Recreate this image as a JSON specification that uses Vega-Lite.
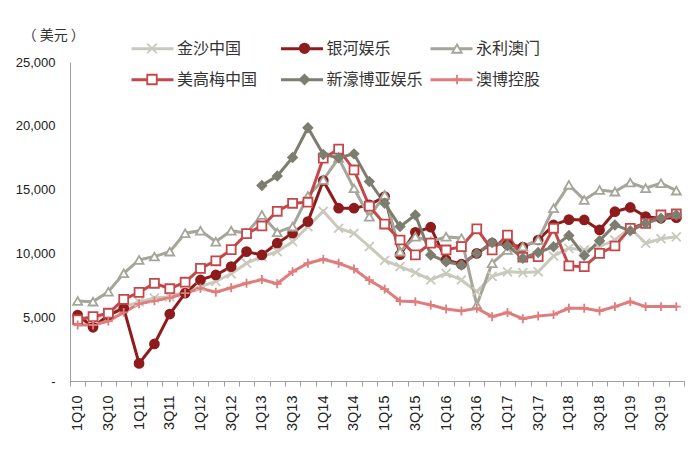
{
  "$schema": "https://vega.github.io/schema/vega-lite/v6.json",
  "width": 614,
  "height": 319,
  "autosize": {"type": "none"},
  "padding": {"left": 70, "top": 62, "right": 16, "bottom": 81},
  "background": "white",
  "config": {
    "view": {"stroke": null},
    "font": "Liberation Sans"
  },
  "data": {
    "values": [
      {"q": "1Q10", "金沙中国": 5000, "银河娱乐": 5170, "永利澳门": 6270, "美高梅中国": 4800, "新濠博亚娱乐": null, "澳博控股": 4390},
      {"q": "2Q10", "金沙中国": 4900, "银河娱乐": 4210, "永利澳门": 6220, "美高梅中国": 5040, "新濠博亚娱乐": null, "澳博控股": 4390},
      {"q": "3Q10", "金沙中国": 5300, "银河娱乐": 5170, "永利澳门": 7000, "美高梅中国": 5310, "新濠博亚娱乐": null, "澳博控股": 4700},
      {"q": "4Q10", "金沙中国": 5800, "银河娱乐": 5700, "永利澳门": 8440, "美高梅中国": 6400, "新濠博亚娱乐": null, "澳博控股": 5380},
      {"q": "1Q11", "金沙中国": 6200, "银河娱乐": 1380, "永利澳门": 9490, "美高梅中国": 6950, "新濠博亚娱乐": null, "澳博控股": 6050},
      {"q": "2Q11", "金沙中国": 6500, "银河娱乐": 2900, "永利澳门": 9750, "美高梅中国": 7660, "新濠博亚娱乐": null, "澳博控股": 6280},
      {"q": "3Q11", "金沙中国": 6600, "银河娱乐": 5250, "永利澳门": 10140, "美高梅中国": 7230, "新濠博亚娱乐": null, "澳博控股": 6520},
      {"q": "4Q11", "金沙中国": 7000, "银河娱乐": 6880, "永利澳门": 11580, "美高梅中国": 7740, "新濠博亚娱乐": null, "澳博控股": 6880},
      {"q": "1Q12", "金沙中国": 7400, "银河娱乐": 7920, "永利澳门": 11780, "美高梅中国": 8830, "新濠博亚娱乐": null, "澳博控股": 7270},
      {"q": "2Q12", "金沙中国": 7800, "银河娱乐": 8310, "永利澳门": 10920, "美高梅中国": 9420, "新濠博亚娱乐": null, "澳博控股": 6960},
      {"q": "3Q12", "金沙中国": 8400, "银河娱乐": 8960, "永利澳门": 11780, "美高梅中国": 10300, "新濠博亚娱乐": null, "澳博控股": 7310},
      {"q": "4Q12", "金沙中国": 9230, "银河娱乐": 10140, "永利澳门": 11580, "美高梅中国": 11550, "新濠博亚娱乐": null, "澳博控股": 7660},
      {"q": "1Q13", "金沙中国": 9750, "银河娱乐": 9880, "永利澳门": 13010, "美高梅中国": 12150, "新濠博亚娱乐": 15330, "澳博控股": 7950},
      {"q": "2Q13", "金沙中国": 10140, "银河娱乐": 10800, "永利澳门": 11650, "美高梅中国": 13300, "新濠博亚娱乐": 16060, "澳博控股": 7620},
      {"q": "3Q13", "金沙中国": 10920, "银河娱乐": 11580, "永利澳门": 12100, "美高梅中国": 13930, "新濠博亚娱乐": 17520, "澳博控股": 8570},
      {"q": "4Q13", "金沙中国": 12100, "银河娱乐": 12490, "永利澳门": 14500, "美高梅中国": 14010, "新濠博亚娱乐": 19850, "澳博控股": 9230},
      {"q": "1Q14", "金沙中国": 13300, "银河娱乐": 15700, "永利澳门": 15760, "美高梅中国": 17460, "新濠博亚娱乐": 17750, "澳博控股": 9540},
      {"q": "2Q14", "金沙中国": 11970, "银河娱乐": 13540, "永利澳门": 17470, "美高梅中国": 18170, "新濠博亚娱乐": 17500, "澳博控股": 9230},
      {"q": "3Q14", "金沙中国": 11580, "银河娱乐": 13540, "永利澳门": 15100, "美高梅中国": 16540, "新濠博亚娱乐": 17800, "澳博控股": 8780},
      {"q": "4Q14", "金沙中国": 10530, "银河娱乐": 13800, "永利澳门": 12870, "美高梅中国": 13700, "新濠博亚娱乐": 15630, "澳博控股": 7900},
      {"q": "1Q15", "金沙中国": 9450, "银河娱乐": 14450, "永利澳门": 14580, "美高梅中国": 12300, "新濠博亚娱乐": 13930, "澳博控股": 7200},
      {"q": "2Q15", "金沙中国": 8960, "银河娱乐": 9900, "永利澳门": 10140, "美高梅中国": 11050, "新濠博亚娱乐": 12100, "澳博控股": 6270},
      {"q": "3Q15", "金沙中国": 8500, "银河娱乐": 11650, "永利澳门": 11310, "美高梅中国": 9880, "新濠博亚娱乐": 13010, "澳博控股": 6220},
      {"q": "4Q15", "金沙中国": 7920, "银河娱乐": 12050, "永利澳门": 10920, "美高梅中国": 10800, "新濠博亚娱乐": 9880, "澳博控股": 5960},
      {"q": "1Q16", "金沙中国": 8440, "银河娱乐": 9490, "永利澳门": 11310, "美高梅中国": 10270, "新濠博亚娱乐": 9350, "澳博控股": 5640},
      {"q": "2Q16", "金沙中国": 7920, "银河娱乐": 9150, "永利澳门": 11190, "美高梅中国": 10530, "新濠博亚娱乐": 9100, "澳博控股": 5490},
      {"q": "3Q16", "金沙中国": 7000, "银河娱乐": 10000, "永利澳门": 5960, "美高梅中国": 11930, "新濠博亚娱乐": 10000, "澳博控股": 5700},
      {"q": "4Q16", "金沙中国": 8200, "银河娱乐": 10800, "永利澳门": 9230, "美高梅中国": 10270, "新濠博亚娱乐": 10860, "澳博控股": 5040},
      {"q": "1Q17", "金沙中国": 8560, "银河娱乐": 10700, "永利澳门": 10270, "美高梅中国": 11440, "新濠博亚娱乐": 10600, "澳博控股": 5370},
      {"q": "2Q17", "金沙中国": 8500, "银河娱乐": 10500, "永利澳门": 10530, "美高梅中国": 9700, "新濠博亚娱乐": 9620, "澳博控股": 4880},
      {"q": "3Q17", "金沙中国": 8560, "银河娱乐": 11050, "永利澳门": 11050, "美高梅中国": 9750, "新濠博亚娱乐": 10070, "澳博控股": 5100},
      {"q": "4Q17", "金沙中国": 9800, "银河娱乐": 12230, "永利澳门": 13540, "美高梅中国": 11970, "新濠博亚娱乐": 10530, "澳博控股": 5200},
      {"q": "1Q18", "金沙中国": 10400, "银河娱乐": 12650, "永利澳门": 15370, "美高梅中国": 9020, "新濠博亚娱乐": 11400, "澳博控股": 5700},
      {"q": "2Q18", "金沙中国": 10270, "银河娱乐": 12620, "永利澳门": 14190, "美高梅中国": 8960, "新濠博亚娱乐": 9830, "澳博控股": 5700},
      {"q": "3Q18", "金沙中国": 10530, "银河娱乐": 11840, "永利澳门": 14970, "美高梅中国": 10000, "新濠博亚娱乐": 11000, "澳博控股": 5490},
      {"q": "4Q18", "金沙中国": 11050, "银河娱乐": 13270, "永利澳门": 14840, "美高梅中国": 10580, "新濠博亚娱乐": 12230, "澳博控股": 5830},
      {"q": "1Q19", "金沙中国": 12000, "银河娱乐": 13600, "永利澳门": 15550, "美高梅中国": 11970, "新濠博亚娱乐": 11770, "澳博控股": 6220},
      {"q": "2Q19", "金沙中国": 10800, "银河娱乐": 12880, "永利澳门": 15110, "美高梅中国": 12360, "新濠博亚娱乐": 12360, "澳博控股": 5830},
      {"q": "3Q19", "金沙中国": 11150, "银河娱乐": 12750, "永利澳门": 15500, "美高梅中国": 13010, "新濠博亚娱乐": 12750, "澳博控股": 5830},
      {"q": "4Q19", "金沙中国": 11300, "银河娱乐": 12800, "永利澳门": 14920, "美高梅中国": 13090, "新濠博亚娱乐": 13010, "澳博控股": 5830}
    ]
  },
  "transform": [
    {"fold": ["金沙中国", "银河娱乐", "永利澳门", "美高梅中国", "新濠博亚娱乐", "澳博控股"], "as": ["company", "value"]},
    {"filter": "isValid(datum.value)"}
  ],
  "encoding": {
    "x": {
      "field": "q",
      "type": "ordinal",
      "sort": null,
      "bandPosition": 0.5,
      "scale": {"type": "band", "paddingInner": 0, "paddingOuter": 0},
      "axis": {
        "title": null,
        "grid": false,
        "labelAngle": -90,
        "labelAlign": "right",
        "labelBaseline": "middle",
        "labelOverlap": false,
        "labelExpr": "test(/^[13]Q/, datum.value) ? datum.value : ''",
        "labelFontSize": 14.5,
        "labelColor": "#222",
        "labelPadding": 9,
        "tickBand": "extent",
        "tickSize": 5,
        "tickColor": "#a0a0a0",
        "domainColor": "#a0a0a0"
      }
    },
    "y": {
      "field": "value",
      "type": "quantitative",
      "scale": {"domain": [0, 25000], "nice": false},
      "axis": {
        "title": "（ 美元 ）",
        "titleAngle": 0,
        "titleAlign": "left",
        "titleBaseline": "middle",
        "titleX": -48,
        "titleY": -27,
        "titleFont": "Noto Sans CJK SC",
        "titleFontSize": 14,
        "titleFontWeight": "normal",
        "titleColor": "#333",
        "values": [0, 5000, 10000, 15000, 20000, 25000],
        "labelExpr": "datum.value == 0 ? '-' : format(datum.value, ',')",
        "labelFontSize": 13,
        "labelColor": "#222",
        "labelPadding": 15,
        "ticks": false,
        "grid": false,
        "domainColor": "#a0a0a0"
      }
    }
  },
  "layer": [
    {
      "mark": {"type": "line", "strokeWidth": 3},
      "encoding": {
        "color": {
          "field": "company",
          "type": "nominal",
          "sort": ["金沙中国", "银河娱乐", "永利澳门", "美高梅中国", "新濠博亚娱乐", "澳博控股"],
          "scale": {
            "range": ["#c9c9bd", "#8e1c1c", "#a5a59a", "#c4484a", "#7d7d70", "#e07c7c"]
          },
          "legend": {
            "title": null,
            "orient": "none",
            "legendX": 60,
            "legendY": -36,
            "padding": 0,
            "direction": "horizontal",
            "columns": 3,
            "gridAlign": "all",
            "columnPadding": 0.5,
            "rowPadding": 0.2,
            "labelFont": "Noto Sans CJK SC",
            "labelFontSize": 16,
            "labelColor": "#333",
            "labelOffset": 2,
            "symbolType": "stroke",
            "symbolSize": 1764,
            "symbolStrokeWidth": 3
          }
        }
      }
    },
    {
      "mark": {"type": "point", "filled": true, "size": 80, "strokeWidth": 1.8, "opacity": 1},
      "encoding": {
        "shape": {
          "field": "company",
          "type": "nominal",
          "scale": {
            "domain": ["金沙中国", "银河娱乐", "永利澳门", "美高梅中国", "新濠博亚娱乐", "澳博控股"],
            "range": ["M-1,-1L1,1M-1,1L1,-1", "circle", "triangle-up", "square", "diamond", "M-1,0L1,0M0,-1L0,1"]
          },
          "legend": {
            "title": null,
            "orient": "none",
            "legendX": 76,
            "legendY": -20,
            "padding": 0,
            "direction": "horizontal",
            "columns": 3,
            "gridAlign": "all",
            "columnPadding": 134.5,
            "rowPadding": 13.5,
            "labelExpr": "''",
            "labelFontSize": 1,
            "labelOffset": 0,
            "symbolSize": 90,
            "symbolStrokeWidth": 1.8
          }
        },
        "fill": {
          "field": "company",
          "type": "nominal",
          "scale": {
            "domain": ["金沙中国", "银河娱乐", "永利澳门", "美高梅中国", "新濠博亚娱乐", "澳博控股"],
            "range": ["#c9c9bd", "#8e1c1c", "#ffffff", "#ffffff", "#7d7d70", "#e07c7c"]
          },
          "legend": null
        },
        "stroke": {
          "field": "company",
          "type": "nominal",
          "scale": {
            "domain": ["金沙中国", "银河娱乐", "永利澳门", "美高梅中国", "新濠博亚娱乐", "澳博控股"],
            "range": ["#c9c9bd", "#8e1c1c", "#a5a59a", "#c4484a", "#7d7d70", "#e07c7c"]
          },
          "legend": null
        }
      }
    }
  ]
}
